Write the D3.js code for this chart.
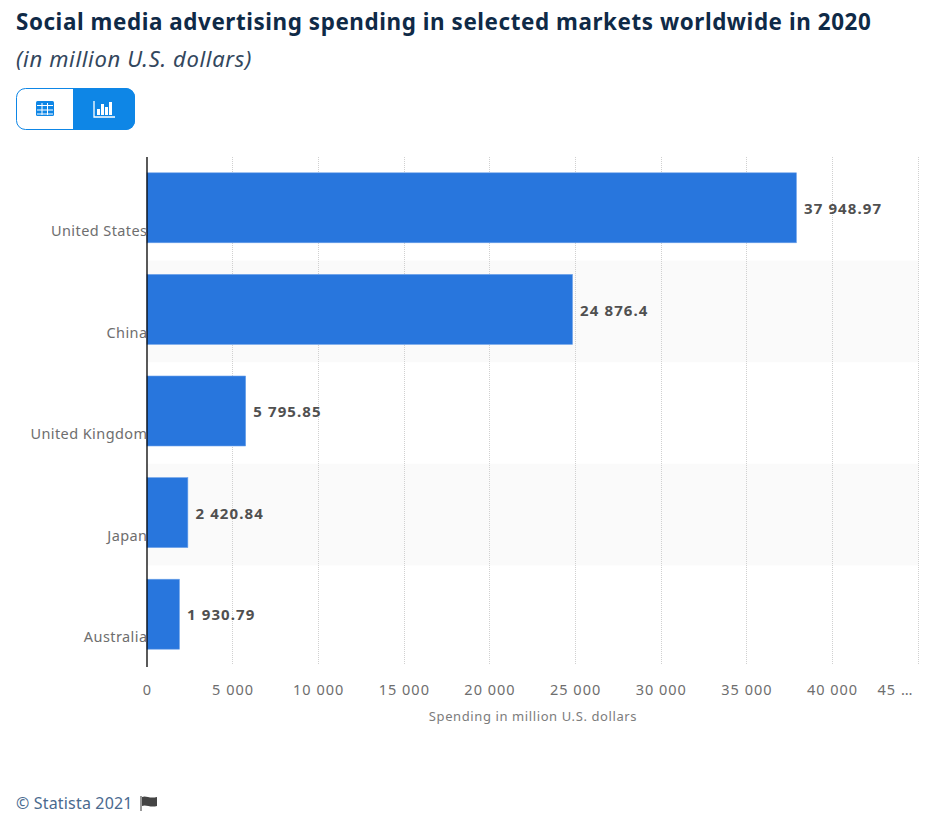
<!DOCTYPE html>
<html><head><meta charset="utf-8">
<script src="https://cdn.jsdelivr.net/npm/d3@7/dist/d3.min.js"></script>
<style>html,body{margin:0;padding:0;background:#fff}svg{display:block}</style>
</head><body><svg id="c" width="929" height="820"></svg>
<script>
const categories = ["United States","China","United Kingdom","Japan","Australia"];
const values = [37948.97,24876.4,5795.85,2420.84,1930.79];
const valueLabels = ["37 948.97","24 876.4","5 795.85","2 420.84","1 930.79"];
const ticks = [0,5000,10000,15000,20000,25000,30000,35000,40000,45000];
const tickLabels = ["0","5 000","10 000","15 000","20 000","25 000","30 000","35 000","40 000","45 …"];
const titleText = "Social media advertising spending in selected markets worldwide in 2020";
const subtitleText = "(in million U.S. dollars)";
const axisTitle = "Spending in million U.S. dollars";
const footer = "© Statista 2021";

const svg = d3.select("#c");
const x = d3.scaleLinear().domain([0,45000]).range([147,917.8]);
const y = d3.scaleBand().domain(categories).range([157,665]).paddingInner(0).paddingOuter(0);
const barH = 70;
const labelFont = "'Noto Sans',sans-serif";
const textFont = "'Noto Sans',sans-serif";

svg.append("text").attr("x",16).attr("y",29.5).attr("fill","#0f2a47").attr("font-family",textFont)
  .attr("font-weight",700).attr("font-size",22.4).attr("letter-spacing",0.58).text(titleText);
svg.append("text").attr("x",16).attr("y",67).attr("fill","#33475d").attr("font-family",textFont)
  .attr("font-style","italic").attr("font-size",22).attr("letter-spacing",0.66).text(subtitleText);

// toggle
const g = svg.append("g");
g.append("rect").attr("x",16.5).attr("y",88.5).attr("width",118).attr("height",41).attr("rx",9).attr("fill","#fff").attr("stroke","#0e86e6");
g.append("path").attr("d","M73 88H126a9 9 0 0 1 9 9V121a9 9 0 0 1 -9 9H73Z").attr("fill","#0e86e6");
g.append("rect").attr("x",36).attr("y",101).attr("width",18).attr("height",15).attr("rx",1.5).attr("fill","#0e86e6");
[[105.5],[110],[114]].forEach(([yy])=>g.append("rect").attr("x",37).attr("y",yy-0.5).attr("width",16).attr("height",1).attr("fill","#fff"));
[41.5,47].forEach(xx=>g.append("rect").attr("x",xx).attr("y",103).attr("width",1).attr("height",12).attr("fill","#fff"));
g.append("path").attr("d","M94 101V117H115").attr("fill","none").attr("stroke","#fff").attr("stroke-width",1.3);
[[97,109,3],[101,104,3],[105,107,3],[109,102,3]].forEach(d=>g.append("rect").attr("x",d[0]).attr("y",d[1]).attr("width",d[2]).attr("height",115-d[1]).attr("fill","#fff"));

// alternating bands
categories.forEach((c,i)=>{ if(i%2==1) svg.append("rect").attr("x",147).attr("y",y(c)+2).attr("width",771.5).attr("height",y.bandwidth()).attr("fill","#fafafa"); });

// grid
svg.append("g").selectAll("line").data(ticks.slice(1)).join("line")
  .attr("x1",d=>Math.floor(x(d)+0.3)+0.5).attr("x2",d=>Math.floor(x(d)+0.3)+0.5).attr("y1",157).attr("y2",665)
  .attr("stroke","#d0d0d0").attr("stroke-width",1).attr("stroke-dasharray","1 1");

// bars
svg.append("g").selectAll("rect").data(categories).join("rect")
  .attr("x",x(0)).attr("y",c=>y(c)+(y.bandwidth()-barH)/2).attr("height",barH)
  .attr("width",(c,i)=>x(values[i])-x(0)-0.6).attr("fill","#2876dd")
  .attr("stroke","#6ea3ea").attr("stroke-width",0.6);

// axis line
svg.append("line").attr("x1",147).attr("x2",147).attr("y1",157).attr("y2",667).attr("stroke","#000").attr("stroke-width",1.3);

// labels
svg.append("g").selectAll("text").data(categories).join("text")
  .attr("x",147.5).attr("y",c=>y(c)+79).attr("text-anchor","end").attr("font-family",labelFont)
  .attr("font-size",14.5).attr("letter-spacing",0.42).attr("fill","#6e6e6e").text(c=>c);
svg.append("g").selectAll("text").data(categories).join("text")
  .attr("x",(c,i)=>x(values[i])+7).attr("y",c=>y(c)+57).attr("font-family",labelFont)
  .attr("font-weight",700).attr("font-size",15).attr("letter-spacing",1.1).attr("fill","#505050").text((c,i)=>valueLabels[i]);
svg.append("g").selectAll("text").data(ticks).join("text")
  .attr("x",(d,i)=>i==9?895.5:x(d)+0.4).attr("y",695).attr("text-anchor","middle").attr("font-family",labelFont)
  .attr("font-size",14.5).attr("letter-spacing",1).attr("fill","#6e6e6e").text((d,i)=>tickLabels[i]);
svg.append("text").attr("x",533).attr("y",721).attr("text-anchor","middle").attr("font-family",labelFont)
  .attr("font-size",13).attr("letter-spacing",0.6).attr("fill","#7c7c7c").text(axisTitle);

svg.append("text").attr("x",16).attr("y",809).attr("font-family",textFont).attr("font-size",16).attr("letter-spacing",0.17).attr("fill","#4a6a8f").text(footer);
svg.append("path").attr("d","M141 796V811").attr("stroke","#555").attr("stroke-width",1.2);
svg.append("path").attr("d","M142 797C146 795 149 799 157 797V806C150 808 146 804 142 806Z").attr("fill","#444");
</script></body></html>
